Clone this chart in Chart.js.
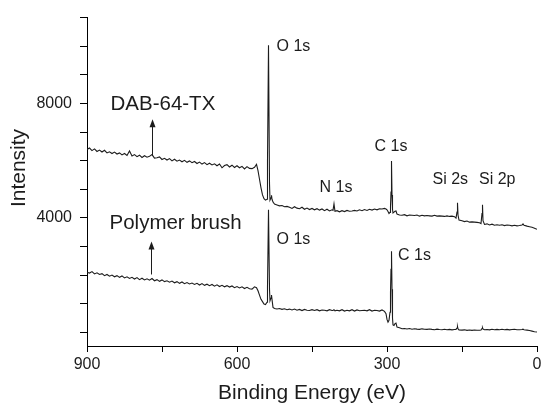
<!DOCTYPE html>
<html>
<head>
<meta charset="utf-8">
<script src="https://cdn.jsdelivr.net/npm/chart.js@4.4.1/dist/chart.umd.min.js"></script>
<style>
  html, body { margin: 0; padding: 0; background: #fff; }
  canvas { display: block; }
</style>
</head>
<body>
<canvas id="xpsCanvas" width="541" height="406"></canvas>
<script>
// binding energy grid (eV), shared by both spectra
const energy = [
  900, 895, 890, 885, 880, 875, 870, 865, 860, 855,
  850, 845, 840, 835, 830, 825, 820, 815, 810, 805,
  800, 795, 790, 785, 780, 775, 770, 765, 760, 755,
  750, 745, 740, 735, 730, 725, 720, 715, 710, 705,
  700, 695, 690, 685, 680, 675, 670, 665, 660, 655,
  650, 645, 640, 635, 630, 625, 620, 615, 610, 605,
  600, 595, 590, 585, 580, 575,
  570, 565, 561, 558, 555, 552, 549, 546, 543, 540, 539, 537, 535, 534, 532, 531, 530, 528, 525, 520, 515, 510, 505, 500,
  495, 490, 485, 480, 475, 470, 465, 460, 455, 450, 445, 440, 435, 430, 425, 420, 415, 410,
  408, 406, 404,
  400, 395, 390, 385, 380, 375, 370, 365, 360, 355, 350, 345, 340, 335, 330, 325, 320, 315, 310, 305,
  302, 300, 298, 296, 294, 293, 292, 291, 290, 289, 288, 286, 284, 282, 280, 275, 270,
  265, 260, 255, 250, 245, 240, 235, 230, 225, 220, 215, 210, 205, 200, 195, 190, 185, 180, 175, 170, 165,
  162, 160, 159, 158, 156,
  150, 145, 140, 135, 130, 125, 120, 115,
  112, 110, 109, 108, 105,
  100, 95, 90, 85, 80, 75, 70, 65, 60, 55, 50, 45, 40, 35, 30,
  28, 26, 20, 15, 10, 5, 0
];

// DAB-64-TX survey spectrum (counts)
const dabIntensity = [
  6390, 6440, 6350, 6410, 6320, 6370, 6300, 6360, 6270, 6310,
  6250, 6300, 6230, 6270, 6200, 6250, 6180, 6340, 6160, 6210,
  6140, 6190, 6110, 6170, 6120, 6150, 6210, 6090, 6100, 6130,
  6040, 6080, 6020, 6070, 5990, 6050, 5980, 6020, 5960, 6010,
  5940, 5990, 5930, 5970, 5900, 5950, 5880, 5930, 5860, 5910,
  5850, 5890, 5820, 5880, 5750, 5830, 5860, 5780, 5840, 5760,
  5820, 5750, 5800, 5710, 5790, 5730,
  5720, 5770, 5870, 5650, 5350, 5050, 4800, 4670, 4620, 4650, 6000, 10030, 5200, 4620, 4700, 4790, 4650, 4550, 4480, 4450, 4420, 4430, 4390, 4400,
  4370, 4330, 4390, 4340, 4320, 4370, 4300, 4340, 4290, 4330, 4280, 4320, 4270, 4310, 4250, 4300, 4240, 4280,
  4260, 4490, 4230,
  4250, 4210, 4250, 4220, 4260, 4230, 4240, 4260, 4240, 4280, 4250, 4290, 4260, 4300, 4270, 4310, 4280, 4320, 4310, 4330,
  4310, 4280, 4220, 4150, 4190, 4400, 4900, 5990, 4800, 4300, 4170, 4200, 4230, 4240, 4130, 4100, 4090,
  4110, 4070, 4100, 4090, 4080, 4100, 4060, 4090, 4070, 4080, 4070, 4060, 4090, 4060, 4070, 4060, 4050, 4070, 4050, 4060, 4040,
  3990, 4200, 4530, 4100, 3920,
  3900, 3870, 3890, 3850, 3860, 3850, 3840, 3830,
  3800, 4150, 4460, 3900, 3770,
  3790, 3750, 3780, 3740, 3760, 3740, 3760, 3730, 3750, 3740, 3720, 3740, 3720, 3730, 3750,
  3790, 3740, 3710, 3690, 3670, 3640, 3600
];

// Polymer brush survey spectrum (counts)
const brushIntensity = [
  2100, 2070, 2120, 2040, 2080, 2020, 2050, 1980, 2020, 1960,
  2000, 1940, 1980, 1920, 1970, 1900, 1940, 1880, 1920, 1860,
  1910, 1840, 1890, 1830, 1870, 1820, 1880, 1800, 1840, 1780,
  1830, 1770, 1800, 1750, 1790, 1730, 1770, 1710, 1760, 1700,
  1740, 1690, 1720, 1670, 1710, 1650, 1700, 1640, 1680, 1630,
  1670, 1610, 1660, 1600, 1640, 1590, 1630, 1580, 1620, 1560,
  1600, 1550, 1590, 1530, 1570, 1520,
  1510, 1590, 1560, 1450, 1300, 1150, 1070, 990, 970, 1050, 1600, 4280, 1500, 1100, 1200, 1300, 1150, 870, 830, 815, 830, 800, 820, 790,
  810, 780, 810, 770, 800, 760, 800, 770, 760, 790, 760, 790, 750, 780, 770, 750, 790, 760,
  760, 790, 750,
  770, 750, 790, 740, 770, 750, 790, 740, 780, 750, 760, 770, 750, 790, 740, 770, 760, 740, 780, 730,
  650, 450, 355, 420, 700, 1400, 2200, 2830, 1500, 500, 260, 240, 300, 320, 180, 160, 125,
  130, 115, 130, 105, 125, 110, 100, 120, 105, 100, 115, 100, 90, 110, 95, 90, 105, 90, 100, 85, 95,
  100, 150, 200, 120, 80,
  75, 85, 65, 80, 65, 80, 70, 70,
  80, 130, 160, 110, 90,
  95, 85, 105, 90, 100, 90, 105, 90, 100, 85, 95, 105, 90, 90, 95,
  110, 90, 75, 60, 40, 20, 10
];

const xTickValues = [0, 150, 300, 450, 600, 750, 900];
const xTickLabels = [0, 300, 600, 900];
const yTickValues = [0, 1000, 2000, 3000, 4000, 5000, 6000, 7000, 8000, 9000, 10000, 11000];
const yTickLabels = [4000, 8000];

// text labels placed at [energy, intensity]
const peakLabels = [
  { text: "O 1s", at: [521, 9980] },
  { text: "N 1s", at: [435, 5040] },
  { text: "C 1s", at: [325, 6490] },
  { text: "Si 2s", at: [209, 5330] },
  { text: "Si 2p", at: [116, 5330] },
  { text: "O 1s", at: [521, 3250] },
  { text: "C 1s", at: [278, 2690] },
];
const sampleLabels = [
  { text: "DAB-64-TX", at: [853, 7970], arrow: [771, 6170, 7450] },
  { text: "Polymer brush", at: [855, 3800], arrow: [772, 2020, 3170] },
];

const FONT = '"Liberation Sans", Arial, Helvetica, sans-serif';
const INK = "#1c1c1c";

const annotationPlugin = {
  id: "xpsAnnotations",
  afterDatasetsDraw(chart) {
    const { ctx } = chart;
    const xs = chart.scales.x;
    const ys = chart.scales.y;
    ctx.save();
    ctx.fillStyle = INK;
    ctx.strokeStyle = INK;
    ctx.textAlign = "left";
    ctx.textBaseline = "middle";

    ctx.font = `16px ${FONT}`;
    peakLabels.forEach((p) => {
      ctx.fillText(p.text, xs.getPixelForValue(p.at[0]), ys.getPixelForValue(p.at[1]));
    });

    ctx.font = `20.5px ${FONT}`;
    sampleLabels.forEach((s) => {
      ctx.fillText(s.text, xs.getPixelForValue(s.at[0]), ys.getPixelForValue(s.at[1]));
      const ax = Math.round(xs.getPixelForValue(s.arrow[0])) + 0.5;
      const y0 = ys.getPixelForValue(s.arrow[1]);
      const y1 = ys.getPixelForValue(s.arrow[2]);
      ctx.lineWidth = 1;
      ctx.beginPath();
      ctx.moveTo(ax, y0);
      ctx.lineTo(ax, y1 + 6);
      ctx.stroke();
      ctx.beginPath();
      ctx.moveTo(ax, y1);
      ctx.lineTo(ax - 3, y1 + 8);
      ctx.lineTo(ax + 3, y1 + 8);
      ctx.closePath();
      ctx.fill();
    });

    // y axis title, kept where the original sits
    ctx.font = `21px ${FONT}`;
    ctx.translate(25, 168);
    ctx.rotate(-Math.PI / 2);
    ctx.textAlign = "center";
    ctx.textBaseline = "alphabetic";
    ctx.fillText("Intensity", 0, 0);
    ctx.restore();
  },
};

const canvas = document.getElementById("xpsCanvas");
new Chart(canvas.getContext("2d"), {
  type: "line",
  data: {
    datasets: [
      {
        label: "DAB-64-TX",
        data: energy.map((e, i) => ({ x: e, y: dabIntensity[i] })),
        borderColor: INK,
        borderWidth: 1.1,
        pointRadius: 0,
        tension: 0,
      },
      {
        label: "Polymer brush",
        data: energy.map((e, i) => ({ x: e, y: brushIntensity[i] })),
        borderColor: INK,
        borderWidth: 1.1,
        pointRadius: 0,
        tension: 0,
      },
    ],
  },
  options: {
    responsive: false,
    animation: false,
    events: [],
    layout: { padding: { top: 13, right: 4, left: 0, bottom: 0 } },
    plugins: { legend: { display: false }, tooltip: { enabled: false } },
    scales: {
      x: {
        type: "linear",
        reverse: true,
        min: 0,
        max: 900,
        afterBuildTicks: (s) => { s.ticks = xTickValues.map((v) => ({ value: v })); },
        afterFit: (s) => { s.height = 60; },
        ticks: {
          callback: (v) => (xTickLabels.includes(v) ? String(v) : ""),
          font: { size: 16, family: FONT },
          color: INK,
          maxRotation: 0,
          autoSkip: false,
          padding: 3,
        },
        grid: { drawOnChartArea: false, drawTicks: true, tickLength: 6, color: "#000" },
        border: { display: true, color: "#000", width: 1 },
        title: {
          display: true,
          text: "Binding Energy (eV)",
          font: { size: 21, family: FONT },
          color: INK,
          padding: { top: 9, bottom: 0 },
        },
      },
      y: {
        type: "linear",
        min: -480,
        max: 11000,
        afterBuildTicks: (s) => { s.ticks = yTickValues.map((v) => ({ value: v })); },
        afterFit: (s) => { s.width = 87; },
        ticks: {
          callback: (v) => (yTickLabels.includes(v) ? String(v) : ""),
          font: { size: 16, family: FONT },
          color: INK,
          autoSkip: false,
          padding: 8,
        },
        grid: { drawOnChartArea: false, drawTicks: true, tickLength: 7, color: "#000" },
        border: { display: true, color: "#000", width: 1 },
      },
    },
  },
  plugins: [annotationPlugin],
});
</script>
</body>
</html>
